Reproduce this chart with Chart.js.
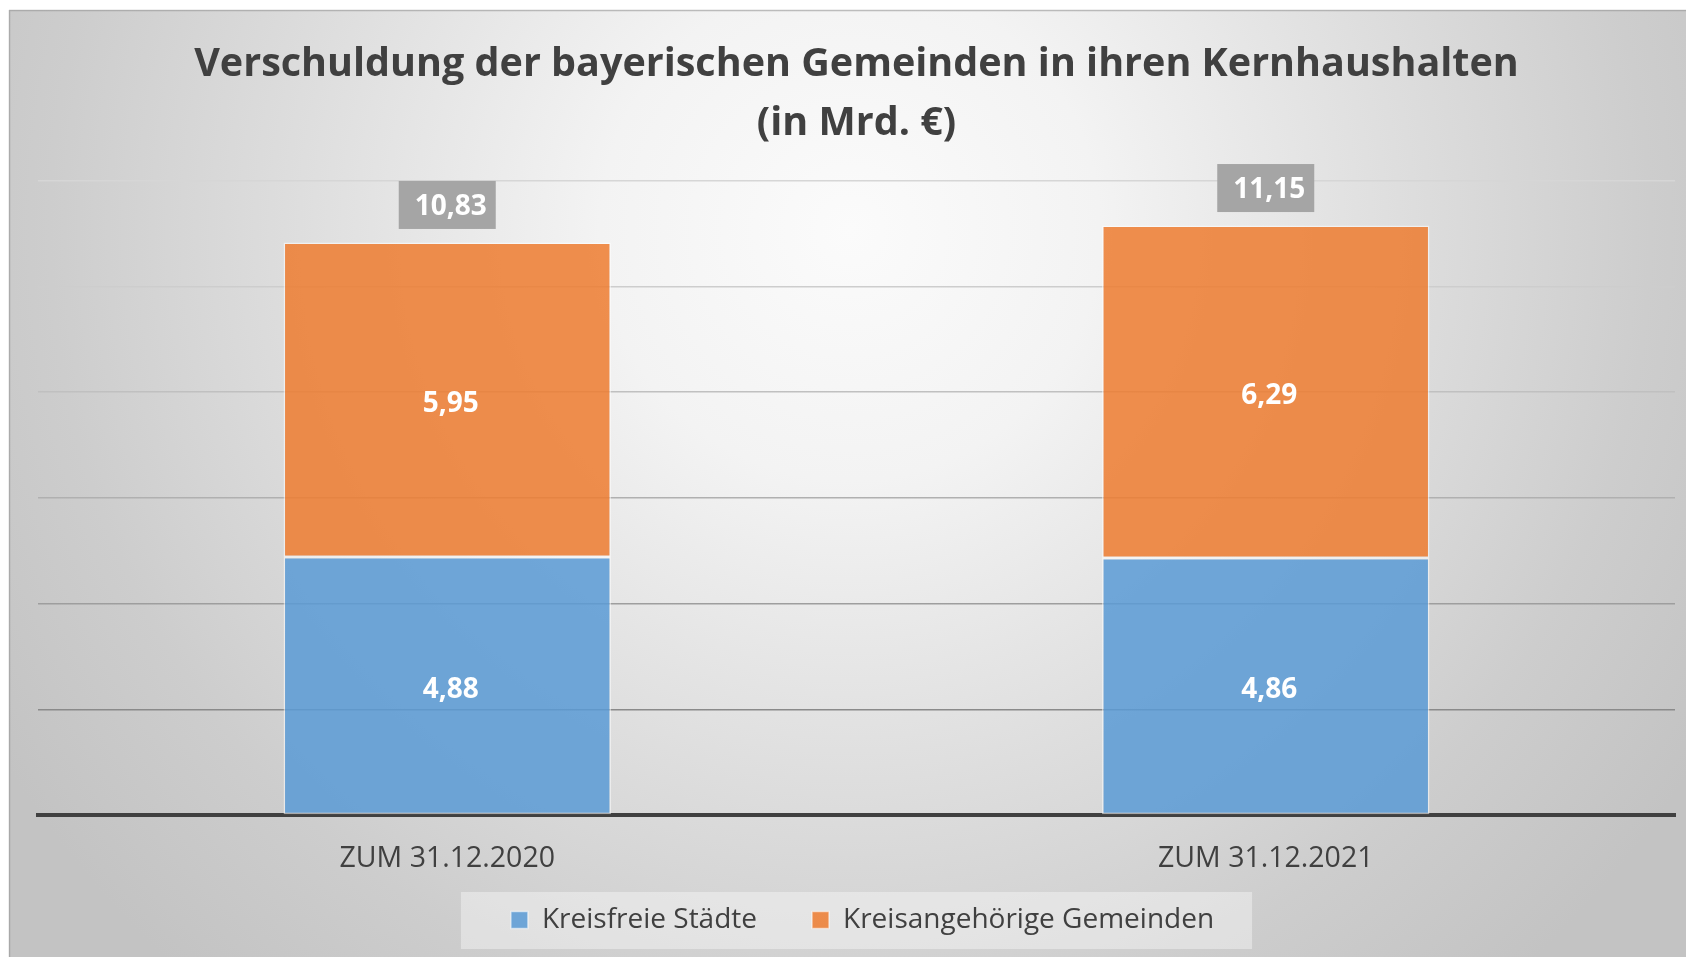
<!DOCTYPE html>
<html><head><meta charset="utf-8">
<script src="https://cdn.jsdelivr.net/npm/chart.js@4"></script>
<style>html,body{margin:0;padding:0;background:#fff}#wrap{width:1686px;height:957px;position:relative}</style>
</head><body><div id="wrap"><canvas id="c"></canvas></div>
<script>
const titleLines = ['Verschuldung der bayerischen Gemeinden in ihren Kernhaushalten', '(in Mrd. €)'];
const categories = ['ZUM 31.12.2020', 'ZUM 31.12.2021'];
const seriesNames = ['Kreisfreie Städte', 'Kreisangehörige Gemeinden'];
const kreisfreieStaedte = [4.88, 4.86];
const kreisangehoerigeGemeinden = [5.95, 6.29];
const totals = [10.83, 11.15];
const yMin = 0, yMax = 12, yStep = 2;

const gridShade = {12: '#d6d6d6', 10: '#cdcdcd', 8: '#c0c0c0', 6: '#b0b0b0', 4: '#9e9e9e', 2: '#8a8a8a', 0: 'rgba(0,0,0,0)'};
const fmt = v => v.toFixed(2).replace('.', ',');
const FONT = "'Open Sans', 'Noto Sans', sans-serif";

const bgPlugin = {
  id: 'bg',
  afterLayout(chart) {
    const x = chart.scales.x;
    if (x) x.bottom = x.top + 80;
    const lg = chart.legend;
    if (lg) { lg.left += 6; lg.right += 6; }
  },
  beforeDraw(chart) {
    const {ctx, width, height} = chart;
    ctx.save();
    ctx.fillStyle = '#ffffff';
    ctx.fillRect(0, 0, width, height);
    const g = ctx.createRadialGradient(850, 230, 0, 850, 230, 1000);
    g.addColorStop(0, '#fbfbfb');
    g.addColorStop(0.25, '#f3f3f3');
    g.addColorStop(0.55, '#dedede');
    g.addColorStop(0.8, '#cdcdcd');
    g.addColorStop(1, '#c3c3c3');
    ctx.fillStyle = g;
    ctx.fillRect(9, 10, width - 9, height - 10);
    ctx.strokeStyle = 'rgba(150,150,150,0.6)';
    ctx.lineWidth = 1.5;
    ctx.beginPath();
    ctx.moveTo(9, 10.5); ctx.lineTo(width, 10.5);
    ctx.moveTo(9.5, 10); ctx.lineTo(9.5, height);
    ctx.stroke();
    const lg = chart.legend;
    if (lg && lg.legendHitBoxes && lg.legendHitBoxes.length) {
      const hb = lg.legendHitBoxes;
      const first = hb[0], last = hb[hb.length - 1];
      const l = first.left - 50, r = last.left + last.width + 38;
      const t = first.top - 14, b = first.top + first.height + 15;
      ctx.fillStyle = 'rgba(255,255,255,0.38)';
      ctx.fillRect(l, t, r - l, b - t);
    }
    ctx.restore();
  }
};

const labelPlugin = {
  id: 'vals',
  afterDatasetsDraw(chart) {
    const {ctx} = chart;
    ctx.save();
    ctx.textAlign = 'center';
    ctx.textBaseline = 'middle';
    ctx.font = "bold 28px " + FONT;
    chart.data.datasets.forEach((ds, di) => {
      const meta = chart.getDatasetMeta(di);
      meta.data.forEach((el, i) => {
        ctx.fillStyle = '#ffffff';
        ctx.fillText(fmt(ds.data[i]), el.x + 3.5, (el.y + el.base) / 2 + 4);
      });
    });
    const topMeta = chart.getDatasetMeta(chart.data.datasets.length - 1);
    topMeta.data.forEach((el, i) => {
      const bw = 97, bh = 48;
      const bottom = el.y - 13.5;
      ctx.fillStyle = '#a5a5a5';
      ctx.fillRect(el.x - bw / 2, bottom - bh, bw, bh);
      ctx.fillStyle = '#ffffff';
      ctx.fillText(fmt(totals[i]), el.x + 3.5, bottom - bh / 2 + 2);
    });
    ctx.restore();
  }
};

new Chart(document.getElementById('c'), {
  type: 'bar',
  data: {
    labels: categories,
    datasets: [
      {label: seriesNames[0], data: kreisfreieStaedte, backgroundColor: 'rgba(91,155,213,0.86)', borderColor: 'rgba(255,255,255,0.55)', borderWidth: 1.5, borderSkipped: false},
      {label: seriesNames[1], data: kreisangehoerigeGemeinden, backgroundColor: 'rgba(237,125,49,0.86)', borderColor: 'rgba(255,255,255,0.55)', borderWidth: 1.5, borderSkipped: false}
    ]
  },
  options: {
    responsive: true,
    maintainAspectRatio: false,
    animation: false,
    devicePixelRatio: 1,
    datasets: {bar: {categoryPercentage: 0.8, barPercentage: 0.5}},
    layout: {padding: {left: 38, right: 11, top: 0, bottom: 13}},
    scales: {
      x: {
        stacked: true,
        z: 1,
        grid: {display: false, drawTicks: false},
        border: {display: true, color: '#404040', width: 4},
        ticks: {color: '#404040', font: {family: FONT, size: 28.5}, padding: 27},
        afterFit(s) { s.height = 36; }
      },
      y: {
        stacked: true,
        min: yMin, max: yMax,
        ticks: {display: false, stepSize: yStep},
        border: {display: false},
        grid: {drawTicks: false, lineWidth: 1.5, color: c => gridShade[c.tick.value] || '#c8c8c8'}
      }
    },
    plugins: {
      legend: {
        position: 'bottom',
        labels: {color: '#404040', font: {family: FONT, size: 28}, boxWidth: 17, boxHeight: 17, padding: 55}
      },
      title: {
        display: true,
        text: titleLines,
        color: '#404040',
        font: {family: FONT, size: 39.5, weight: 'bold', lineHeight: 59 / 39.5},
        padding: {top: 35.5, bottom: 27.1}
      },
      tooltip: {enabled: false}
    }
  },
  plugins: [bgPlugin, labelPlugin]
});
</script>
</body></html>
